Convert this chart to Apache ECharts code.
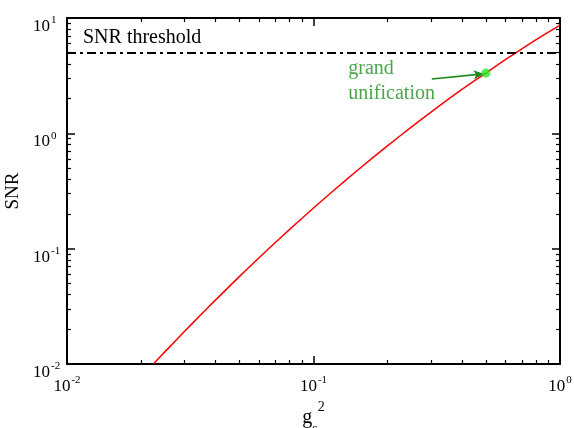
<!DOCTYPE html>
<html>
<head>
<meta charset="utf-8">
<script src="https://cdn.jsdelivr.net/npm/echarts@6/dist/echarts.min.js"></script>
<style>
  html, body { margin: 0; padding: 0; background: #fff; }
  #chart { width: 574px; height: 428px; }
</style>
</head>
<body>
<div id="chart"></div>
<script>
// SNR as a function of the string coupling g_s^2
const couplingG2 = [0.0225, 0.025, 0.03, 0.035, 0.04, 0.05, 0.06, 0.07, 0.08, 0.1, 0.12, 0.15, 0.2, 0.25, 0.3, 0.4, 0.5, 0.6, 0.7, 0.85, 1.0];
const snrValues  = [0.0101, 0.0128, 0.0192, 0.0269, 0.0358, 0.0572, 0.0831, 0.113, 0.147, 0.225, 0.316, 0.474, 0.782, 1.137, 1.53, 2.40, 3.33, 4.35, 5.40, 7.03, 8.69];

// detection threshold
const snrThreshold = 5;
const thresholdLabel = 'SNR threshold';

// grand unification point and its annotation
const gutPoint = [0.5, 3.33];
const gutArrowTail = [0.302, 2.96];
const gutArrowHead = [0.49, 3.28];
const gutLabel = 'grand\nunification';

// axis ranges and tick positions
const xRange = [0.01, 1];
const yRange = [0.01, 10];
const xMinorTicks = [0.02, 0.03, 0.04, 0.05, 0.06, 0.07, 0.08, 0.09,
                     0.2, 0.3, 0.4, 0.5, 0.6, 0.7, 0.8, 0.9];
const yMinorTicks = [0.02, 0.03, 0.04, 0.05, 0.06, 0.07, 0.08, 0.09,
                     0.2, 0.3, 0.4, 0.5, 0.6, 0.7, 0.8, 0.9,
                     2, 3, 4, 5, 6, 7, 8, 9];

const serif = 'Liberation Serif';
const rich = {
  b: { fontFamily: serif, fontSize: 17, color: '#000', lineHeight: 20, verticalAlign: 'bottom' },
  s: { fontFamily: serif, fontSize: 11, color: '#000', lineHeight: 12, verticalAlign: 'top', padding: [0, 0, 0, 1] }
};
const powerLabel = v => '{b|10}{s|' + Math.round(Math.log10(v)) + '}';

const axisLineStyle = { color: '#000', width: 2 };
function logAxis(range, extra) {
  return Object.assign({
    type: 'log', logBase: 10, min: range[0], max: range[1],
    splitLine: { show: false },
    axisLine: { show: false, lineStyle: axisLineStyle },
    axisTick: { show: true, inside: true, length: 8, lineStyle: { color: '#000', width: 1.5 } },
    axisLabel: { show: false }
  }, extra);
}
function minorAxis(range, pos, ticks) {
  return logAxis(range, {
    position: pos,
    axisTick: { show: true, inside: true, length: 4, customValues: ticks,
                lineStyle: { color: '#000', width: 1.2 } }
  });
}

// g with subscript s and superscript 2, all tokens top-aligned in one box
const nameRich = {
  p0: { fontFamily: serif, fontSize: 20, color: '#000', lineHeight: 20, verticalAlign: 'top', padding: [7.5, 0, 9, 0] },
  s:  { fontFamily: serif, fontSize: 14, color: '#000', lineHeight: 14, verticalAlign: 'top', padding: [22.5, 0, 0, 0] },
  p:  { fontFamily: serif, fontSize: 14, color: '#000', lineHeight: 14, verticalAlign: 'top', padding: [0, 0, 22.5, 0] }
};

const chart = echarts.init(document.getElementById('chart'), null, { renderer: 'canvas' });
chart.setOption({
  animation: false,
  backgroundColor: '#fff',
  grid: { left: 67, right: 14, top: 18, bottom: 64, show: false, containLabel: false, outerBoundsMode: 'none' },
  xAxis: [
    logAxis(xRange, {
      position: 'bottom',
      axisLine: { show: true, onZero: false, lineStyle: axisLineStyle },
      axisLabel: { show: true, margin: 11, formatter: powerLabel, rich: rich },
      name: '{p0|g}{s|s}{p|2}',
      nameLocation: 'middle',
      nameGap: 28,
      nameTextStyle: { rich: nameRich }
    }),
    minorAxis(xRange, 'bottom', xMinorTicks),
    logAxis(xRange, { position: 'top', axisLine: { show: true, onZero: false, lineStyle: axisLineStyle } }),
    minorAxis(xRange, 'top', xMinorTicks)
  ],
  yAxis: [
    logAxis(yRange, {
      position: 'left',
      axisLine: { show: true, onZero: false, lineStyle: axisLineStyle },
      axisLabel: { show: true, margin: 34, align: 'left', padding: [14, 0, 0, 0], formatter: powerLabel, rich: rich },
      name: 'SNR',
      nameLocation: 'middle',
      nameGap: 43,
      nameTextStyle: { fontFamily: serif, fontSize: 19, color: '#000' }
    }),
    minorAxis(yRange, 'left', yMinorTicks),
    logAxis(yRange, { position: 'right', axisLine: { show: true, onZero: false, lineStyle: axisLineStyle } }),
    minorAxis(yRange, 'right', yMinorTicks)
  ],
  series: [
    {
      name: 'SNR',
      type: 'line',
      xAxisIndex: 0, yAxisIndex: 0,
      data: couplingG2.map((x, i) => [x, snrValues[i]]),
      showSymbol: false,
      smooth: 0.2,
      lineStyle: { color: '#ff0000', width: 1.5 },
      z: 3,
      markLine: {
        silent: true,
        symbol: ['none', 'none'],
        lineStyle: { color: '#000', width: 2, type: [9, 4, 3, 4] },
        label: {
          show: true, position: 'insideStartTop', distance: [16, 5],
          formatter: thresholdLabel,
          fontFamily: serif, fontSize: 20, color: '#000'
        },
        data: [{ yAxis: snrThreshold }]
      }
    },
    {
      name: 'grand unification',
      type: 'scatter',
      xAxisIndex: 0, yAxisIndex: 0,
      data: [gutPoint],
      symbol: 'circle',
      symbolSize: 9,
      itemStyle: { color: '#22ee22' },
      z: 5,
      label: {
        show: true,
        position: [-133, -12],
        align: 'left',
        verticalAlign: 'top',
        formatter: gutLabel,
        fontFamily: serif, fontSize: 20, lineHeight: 25, color: '#1b8f1b'
      },
      markLine: {
        silent: true,
        symbol: ['none', 'arrow'],
        symbolSize: [7, 10],
        lineStyle: { color: '#1b8a1b', width: 1.6, type: 'solid' },
        label: { show: false },
        data: [[{ coord: gutArrowTail }, { coord: gutArrowHead }]]
      }
    }
  ]
});
</script>
</body>
</html>
